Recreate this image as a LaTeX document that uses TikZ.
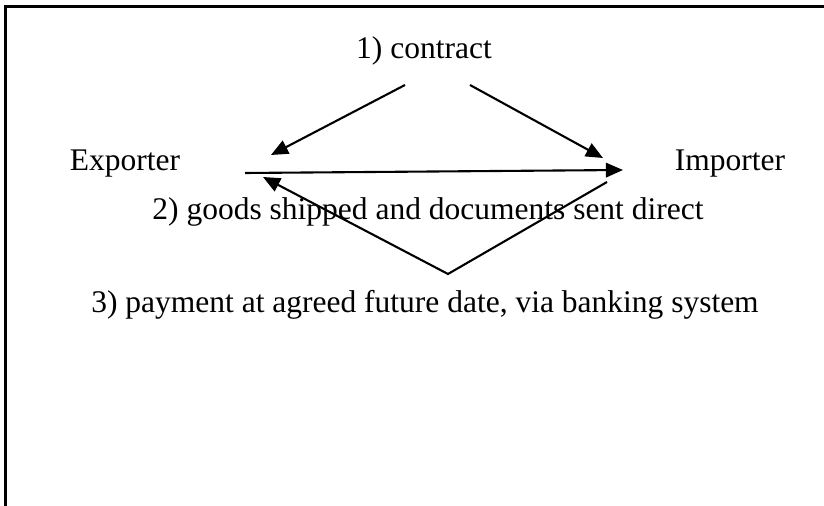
\documentclass[tikz,border=0pt]{standalone}
\usepackage{fontspec}
\setmainfont{Liberation Serif}
\usetikzlibrary{arrows.meta}
\tikzset{
  every picture/.style={line width=0.8pt},
  txt/.style={font=\fontsize{12}{14}\selectfont, anchor=base, inner sep=0pt},
  arrow/.style={-{Triangle[length=6.5pt, width=5.5pt]}, line width=0.8pt},
  frame/.style={line width=1pt},
}

\begin{document}
\begin{tikzpicture}[x=0.381pt, y=-0.381pt]
  \useasboundingbox (0,0) rectangle (824,506);
  \draw[frame] (5.5,506) -- (5.5,6.5) -- (824,6.5);
  \node[txt] (con) at (424,59) {1) contract};
  \node[txt] (exp) at (125,171) {Exporter};
  \node[txt] (imp) at (730,171) {Importer};
  \node[txt] (goods) at (428,220) {2) goods shipped and documents sent direct};
  \node[txt] (pay) at (425,313) {3) payment at agreed future date, via banking system};
  % contract
  \coordinate (conl) at (405,85);
  \coordinate (conr) at (470,85);
  \coordinate (expin) at (271,155);
  \coordinate (impin) at (603,158);
  \draw[arrow] (conl) -- (expin);
  \draw[arrow] (conr) -- (impin);
  % goods
  \coordinate (gfrom) at (245,173);
  \coordinate (gto) at (623,170);
  \draw[arrow] (gfrom) -- (gto);
  % payment
  \coordinate (pfrom) at (607,182);
  \coordinate (pbank) at (448,274);
  \coordinate (pto) at (263,177);
  \draw[arrow] (pfrom) -- (pbank) -- (pto);
\end{tikzpicture}
\end{document}
